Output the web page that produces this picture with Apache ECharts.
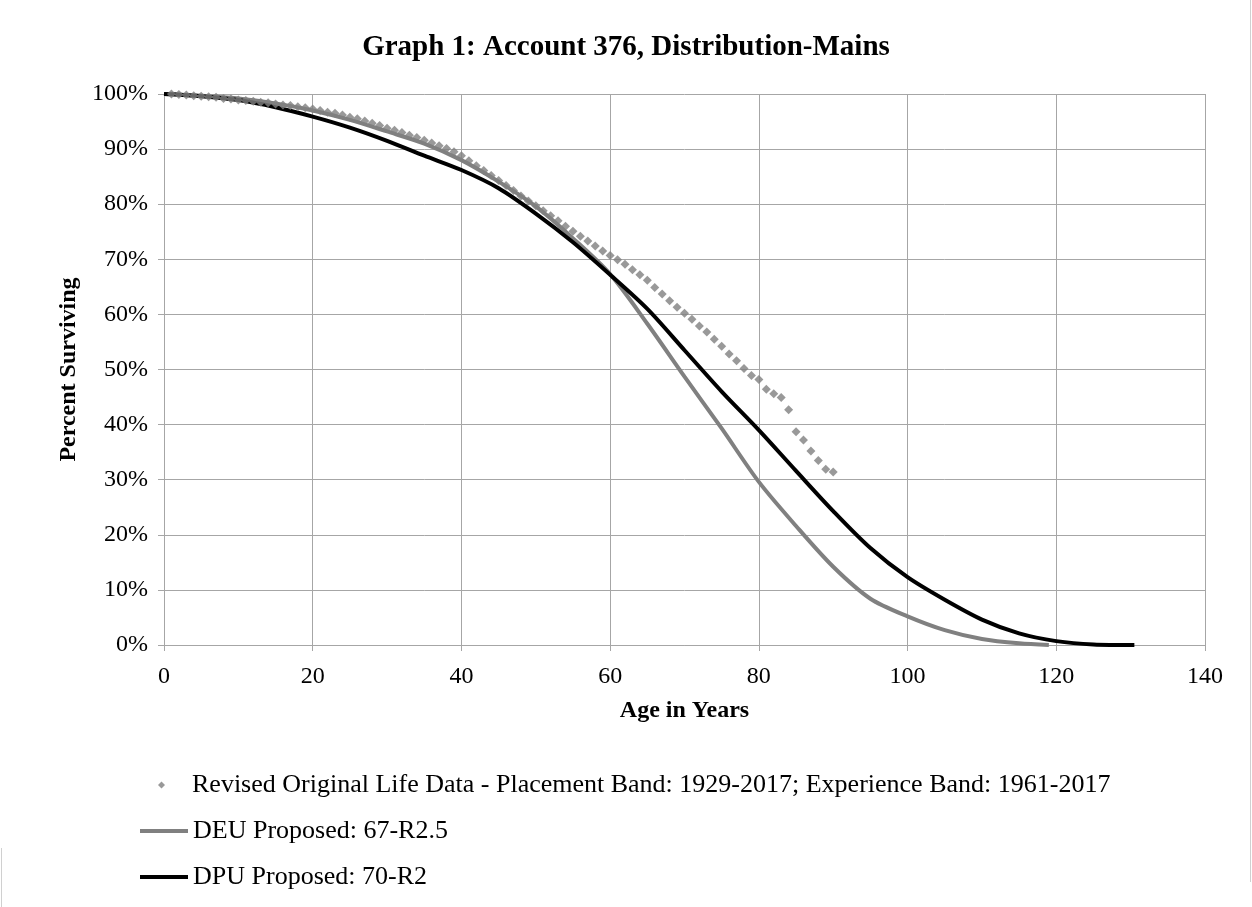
<!DOCTYPE html>
<html>
<head>
<meta charset="utf-8">
<script src="https://cdn.jsdelivr.net/npm/echarts@6/dist/echarts.min.js"></script>
<style>html,body{margin:0;padding:0;background:#fff}#c{width:1252px;height:907px}</style>
</head>
<body>
<div id="c"></div>
<script>
const titleText = 'Graph 1: Account 376, Distribution-Mains';
const xTitle = 'Age in Years';
const yTitle = 'Percent Surviving';
const nameScatter = 'Revised Original Life Data - Placement Band: 1929-2017; Experience Band: 1961-2017';
const nameDEU = 'DEU Proposed: 67-R2.5';
const nameDPU = 'DPU Proposed: 70-R2';

// Observed life table (age in years, percent surviving)
const scatterAges = [1,2,3,4,5,6,7,8,9,10,11,12,13,14,15,16,17,18,19,20,21,22,23,24,25,26,27,28,29,30,
  31,32,33,34,35,36,37,38,39,40,41,42,43,44,45,46,47,48,49,50,51,52,53,54,55,56,57,58,59,60,
  61,62,63,64,65,66,67,68,69,70,71,72,73,74,75,76,77,78,79,80,81,82,83,84,85,86,87,88,89,90];
const scatterPct = [100.0,99.9,99.8,99.7,99.6,99.5,99.4,99.2,99.1,98.9,98.8,98.7,98.5,98.4,98.2,98.0,97.9,97.7,97.5,97.3,
  97.0,96.7,96.5,96.2,95.8,95.5,95.1,94.7,94.3,93.8,93.4,93.0,92.5,92.1,91.6,91.1,90.6,90.1,89.5,88.8,
  87.9,87.0,86.1,85.2,84.3,83.4,82.5,81.5,80.6,79.7,78.8,77.9,77.0,76.0,75.1,74.2,73.3,72.4,71.5,70.7,
  69.9,69.1,68.1,67.2,66.2,64.9,63.7,62.5,61.3,60.2,59.1,57.9,56.8,55.5,54.2,52.8,51.6,50.2,48.9,48.2,
  46.4,45.6,44.9,42.7,38.7,37.2,35.2,33.5,31.9,31.4];

// DEU 67-R2.5 curve
const deuAges = [0,5,10,15,20,25,30,35,40,45,50,55,60,65,70,75,80,85,90,95,100,105,110,115,119];
const deuPct  = [100,99.7,99.2,98.3,97.0,95.3,93.2,91.0,88.0,84.1,79.6,73.8,67.3,58.3,48.7,39.3,29.6,21.6,14.2,8.4,5.2,2.7,1.1,0.3,0];

// DPU 70-R2 curve
const dpuAges = [0,5,10,15,20,25,30,35,40,45,50,55,60,65,70,75,80,85,90,95,100,105,110,115,120,125,130.5];
const dpuPct  = [100,99.6,98.9,97.6,95.9,93.9,91.5,88.8,86.2,82.9,78.3,73.1,67.2,61.0,53.5,46.0,39.0,31.6,24.3,17.6,12.3,8.2,4.6,2.1,0.7,0.1,0];

const xTicks = {min: 0, max: 140, interval: 20};
const yTicks = {min: 0, max: 100, interval: 10};

const zip = (a, b) => a.map((v, i) => [v, b[i]]);
const font = 'Liberation Serif';
const gridGray = '#a6a6a6';

const chart = echarts.init(document.getElementById('c'), null, {renderer: 'canvas'});
chart.setOption({
  animation: false,
  backgroundColor: '#fff',
  title: {
    text: titleText,
    left: 'center', top: 28,
    textStyle: {fontFamily: font, fontSize: 29, fontWeight: 'bold', color: '#000'}
  },
  grid: {left: 164, right: 47, top: 94, bottom: 262, containLabel: false},
  xAxis: {
    type: 'value', min: xTicks.min, max: xTicks.max, interval: xTicks.interval,
    name: xTitle, nameLocation: 'middle', nameGap: 54,
    nameTextStyle: {fontFamily: font, fontSize: 24, fontWeight: 'bold', color: '#000'},
    axisLine: {show: true, lineStyle: {color: gridGray, width: 1}},
    axisTick: {show: true, length: 6, lineStyle: {color: gridGray}},
    axisLabel: {fontFamily: font, fontSize: 24, color: '#000', margin: 20},
    splitLine: {show: true, lineStyle: {color: gridGray, width: 1}}
  },
  yAxis: {
    type: 'value', min: yTicks.min, max: yTicks.max, interval: yTicks.interval,
    name: yTitle, nameLocation: 'middle', nameGap: 74, nameRotate: 90,
    nameTextStyle: {fontFamily: font, fontSize: 24, fontWeight: 'bold', color: '#000'},
    axisLine: {show: true, lineStyle: {color: gridGray, width: 1}},
    axisTick: {show: true, length: 6, lineStyle: {color: gridGray}},
    axisLabel: {fontFamily: font, fontSize: 24, color: '#000', margin: 16, formatter: '{value}%'},
    splitLine: {show: true, lineStyle: {color: gridGray, width: 1}}
  },
  legend: [
    {data: [{name: nameScatter, icon: 'diamond'}], left: 153, top: 767, orient: 'vertical',
     itemWidth: 7, itemHeight: 7,
     textStyle: {fontFamily: font, fontSize: 26, color: '#000', padding: [0, 0, 0, 22]}},
    {data: [{name: nameDEU, icon: 'rect'}], left: 135, top: 813, orient: 'vertical',
     itemWidth: 48, itemHeight: 4, textStyle: {fontFamily: font, fontSize: 26, color: '#000'}},
    {data: [{name: nameDPU, icon: 'rect'}], left: 135, top: 859, orient: 'vertical',
     itemWidth: 48, itemHeight: 4, textStyle: {fontFamily: font, fontSize: 26, color: '#000'}}
  ],
  graphic: [
    {type: 'line', shape: {x1: 1250.5, y1: 0, x2: 1250.5, y2: 882}, style: {stroke: '#d0d0d0', lineWidth: 1}},
    {type: 'line', shape: {x1: 1.5, y1: 848, x2: 1.5, y2: 907}, style: {stroke: '#d0d0d0', lineWidth: 1}}
  ],
  series: [
    {name: nameDEU, type: 'line', data: zip(deuAges, deuPct), smooth: 0.3,
     showSymbol: false, symbol: 'none', lineStyle: {color: '#808080', width: 4}, itemStyle: {color: '#808080'}, z: 2},
    {name: nameDPU, type: 'line', data: zip(dpuAges, dpuPct), smooth: 0.3,
     showSymbol: false, symbol: 'none', lineStyle: {color: '#000000', width: 4}, itemStyle: {color: '#000000'}, z: 3},
    {name: nameScatter, type: 'scatter', data: zip(scatterAges, scatterPct), symbol: 'diamond', symbolSize: 9,
     itemStyle: {color: '#7f7f7f'}, z: 4}
  ]
});
</script>
</body>
</html>
